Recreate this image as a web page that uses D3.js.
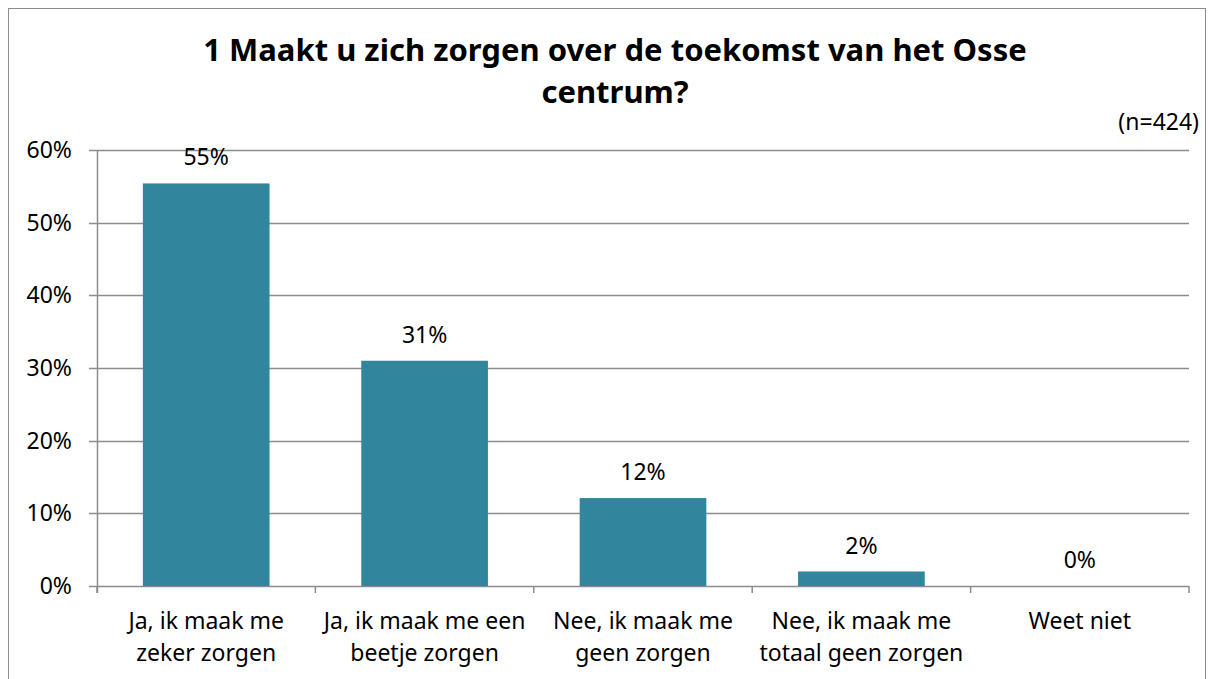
<!DOCTYPE html>
<html lang="nl">
<head>
    <meta charset="UTF-8">
    <script src="https://d3js.org/d3.v7.min.js"></script>
    <style>
        body {
            margin: 0;
            font-family: "Noto Sans", Arial, sans-serif;
            background: white;
        }
        .label {
            font-size: 23px;
            fill: black;
        }
    </style>
</head>
<body>
    <div id="chart"></div>

    <script>
        const categories = [
            "Ja, ik maak me zeker zorgen",
            "Ja, ik maak me een beetje zorgen",
            "Nee, ik maak me geen zorgen",
            "Nee, ik maak me totaal geen zorgen",
            "Weet niet"
        ];
        const categoryLines = [
            ["Ja, ik maak me", "zeker zorgen"],
            ["Ja, ik maak me een", "beetje zorgen"],
            ["Nee, ik maak me", "geen zorgen"],
            ["Nee, ik maak me", "totaal geen zorgen"],
            ["Weet niet"]
        ];
        const percentages = [55.4, 31.0, 12.1, 2.0, 0.0];
        const yTicks = [0, 10, 20, 30, 40, 50, 60];
        const titleLines = ["1 Maakt u zich zorgen over de toekomst van het Osse", "centrum?"];
        const note = "(n=424)";

        const W = 1214, H = 679;
        const margin = {top: 150, right: 25, bottom: 93, left: 97};
        const width = W - margin.left - margin.right,
              height = H - margin.top - margin.bottom;

        const svgRoot = d3.select("#chart")
            .append("svg")
            .attr("width", W)
            .attr("height", H);

        // outer frame of the chart
        svgRoot.append("rect")
            .attr("x", 8.5).attr("y", 8.5)
            .attr("width", 1197).attr("height", 700)
            .attr("fill", "white")
            .attr("stroke", "#8c8c8c")
            .attr("stroke-width", 1);

        svgRoot.append("text")
            .attr("x", 615)
            .attr("y", 61)
            .attr("text-anchor", "middle")
            .style("font-size", "31px")
            .style("font-weight", "bold")
            .selectAll("tspan")
            .data(titleLines)
            .enter()
            .append("tspan")
            .attr("x", 615)
            .attr("dy", (d, i) => i === 0 ? 0 : 42)
            .text(d => d);

        svgRoot.append("text")
            .attr("class", "label")
            .attr("x", 1199)
            .attr("y", 130)
            .attr("text-anchor", "end")
            .text(note);

        const svg = svgRoot.append("g")
            .attr("transform", `translate(${margin.left},${margin.top})`);

        const x = d3.scaleBand()
            .domain(categories)
            .range([0, width])
            .paddingInner(0.42)
            .paddingOuter(0.21);

        const y = d3.scaleLinear()
            .domain([0, 60])
            .range([height, 0]);

        // gridlines
        svg.append("g")
            .selectAll("line")
            .data(yTicks)
            .enter()
            .append("line")
            .attr("x1", -8)
            .attr("x2", width)
            .attr("y1", d => Math.round(y(d)) + 0.5)
            .attr("y2", d => Math.round(y(d)) + 0.5)
            .attr("stroke", "#8c8c8c")
            .attr("stroke-width", 1.5);

        // y axis line
        svg.append("line")
            .attr("x1", 0.5).attr("x2", 0.5)
            .attr("y1", 0).attr("y2", height + 7)
            .attr("stroke", "#8c8c8c")
            .attr("stroke-width", 1.5);

        // category boundary ticks
        const step = x.step();
        svg.append("g")
            .selectAll("line")
            .data(d3.range(categories.length + 1))
            .enter()
            .append("line")
            .attr("x1", i => i * step)
            .attr("x2", i => i * step)
            .attr("y1", height)
            .attr("y2", height + 7)
            .attr("stroke", "#8c8c8c")
            .attr("stroke-width", 1.5);

        svg.append("g")
            .selectAll("text")
            .data(yTicks)
            .enter()
            .append("text")
            .attr("class", "label")
            .attr("x", -25)
            .attr("y", d => y(d))
            .attr("dy", "0.35em")
            .attr("text-anchor", "end")
            .text(d => d + "%");

        svg.selectAll(".bar")
            .data(percentages)
            .enter()
            .append("rect")
            .attr("class", "bar")
            .attr("x", (d, i) => x(categories[i]))
            .attr("y", d => y(d))
            .attr("width", x.bandwidth())
            .attr("height", d => height - y(d))
            .attr("fill", "#31859c");

        svg.selectAll(".value")
            .data(percentages)
            .enter()
            .append("text")
            .attr("class", "label")
            .attr("x", (d, i) => x(categories[i]) + x.bandwidth() / 2)
            .attr("y", d => y(d) - 26)
            .attr("dy", "0.35em")
            .attr("text-anchor", "middle")
            .text(d => Math.round(d) + "%");

        categoryLines.forEach((lines, i) => {
            const t = svg.append("text")
                .attr("class", "label")
                .attr("text-anchor", "middle")
                .attr("y", height + 35)
                .attr("dy", "0.35em");
            lines.forEach((line, j) => {
                t.append("tspan")
                    .attr("x", x(categories[i]) + x.bandwidth() / 2)
                    .attr("dy", j === 0 ? "0.35em" : 32)
                    .text(line);
            });
        });
    </script>
</body>
</html>
